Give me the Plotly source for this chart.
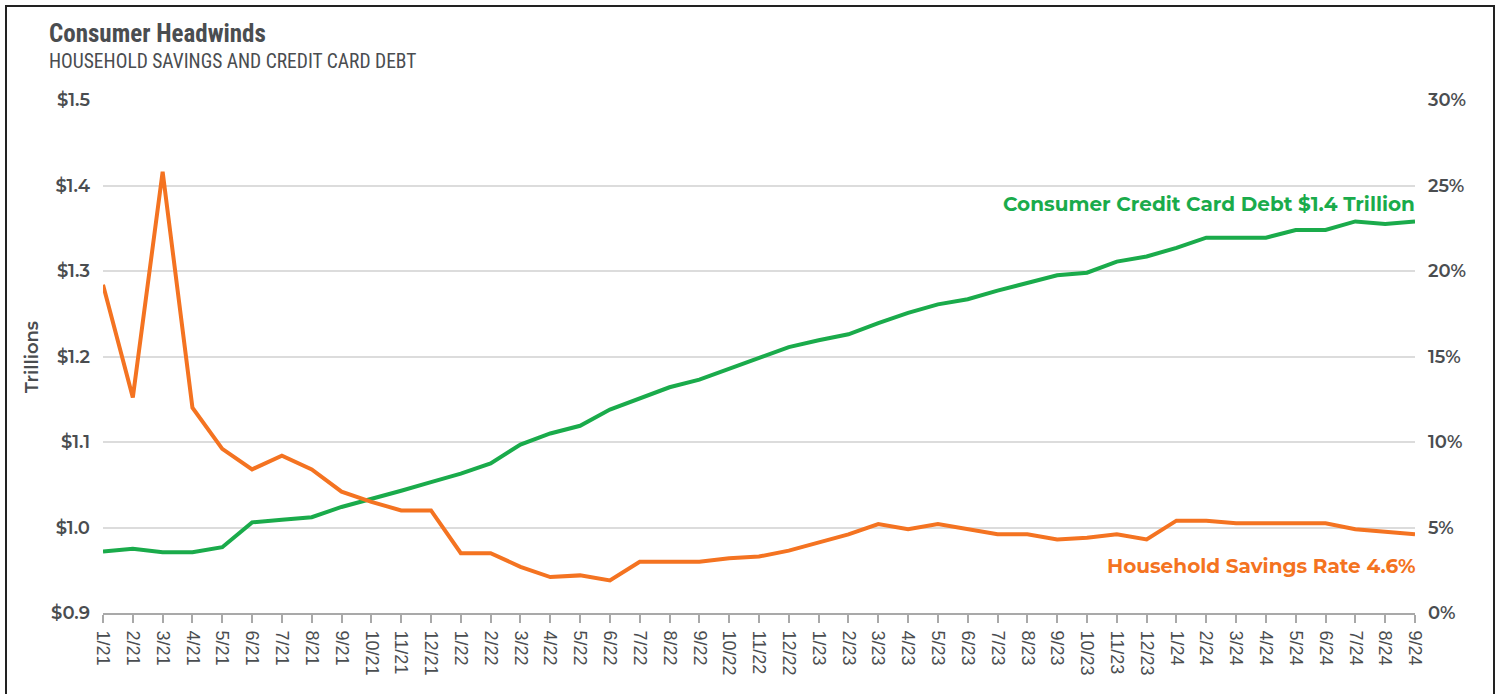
import plotly.graph_objects as go

months = ["1/21","2/21","3/21","4/21","5/21","6/21","7/21","8/21","9/21","10/21","11/21","12/21",
          "1/22","2/22","3/22","4/22","5/22","6/22","7/22","8/22","9/22","10/22","11/22","12/22",
          "1/23","2/23","3/23","4/23","5/23","6/23","7/23","8/23","9/23","10/23","11/23","12/23",
          "1/24","2/24","3/24","4/24","5/24","6/24","7/24","8/24","9/24"]

credit_debt = [0.972, 0.975, 0.971, 0.971, 0.977, 1.006, 1.009, 1.012, 1.024, 1.033, 1.043, 1.053,
               1.063, 1.075, 1.097, 1.110, 1.119, 1.138, 1.151, 1.164, 1.173, 1.186, 1.199, 1.211,
               1.219, 1.226, 1.239, 1.251, 1.261, 1.267, 1.277, 1.286, 1.295, 1.298, 1.311, 1.317,
               1.327, 1.339, 1.339, 1.339, 1.348, 1.348, 1.358, 1.355, 1.358]

savings_rate = [19.2, 12.6, 25.8, 12.0, 9.6, 8.4, 9.2, 8.4, 7.1, 6.5, 6.0, 6.0,
                3.5, 3.5, 2.7, 2.1, 2.2, 1.9, 3.0, 3.0, 3.0, 3.2, 3.3, 3.65,
                4.1, 4.6, 5.2, 4.9, 5.2, 4.9, 4.6, 4.6, 4.3, 4.4, 4.6, 4.3,
                5.4, 5.4, 5.25, 5.25, 5.25, 5.25, 4.9, 4.75, 4.6]

left_ticks = [0.9, 1.0, 1.1, 1.2, 1.3, 1.4, 1.5]
left_labels = ["$0.9", "$1.0", "$1.1", "$1.2", "$1.3", "$1.4", "$1.5"]
right_ticks = [0, 5, 10, 15, 20, 25, 30]
right_labels = ["0%", "5%", "10%", "15%", "20%", "25%", "30%"]

GREEN = "#1aab4b"
ORANGE = "#f47321"
TEXT = "#4a4d50"
GRID = "#dcdcdc"
AXIS = "#a9a9a9"

W, H = 1501, 694
L, R, T, B = 103, 86, 100, 81
pw, ph = W - L - R, H - T - B

def px(x):
    return (x - L) / pw

def py(y):
    return (H - B - y) / ph

fig = go.Figure()
fig.add_trace(go.Scatter(x=months, y=credit_debt, mode="lines", yaxis="y",
                         line=dict(color=GREEN, width=4), showlegend=False))
fig.add_trace(go.Scatter(x=months, y=savings_rate, mode="lines", yaxis="y2",
                         line=dict(color=ORANGE, width=4), showlegend=False))

tick_font = dict(family="Montserrat, 'Open Sans', sans-serif", size=18, color=TEXT, weight=600)

fig.update_layout(
    width=W, height=H,
    margin=dict(l=L, r=R, t=T, b=B, pad=0),
    paper_bgcolor="white", plot_bgcolor="white",
    xaxis=dict(type="category", range=[0, len(months) - 1],
               tickangle=90, ticks="outside", ticklen=8, tickwidth=2, tickcolor=AXIS,
               showline=True, linecolor=AXIS, linewidth=2, showgrid=False,
               ticklabelstandoff=4,
               tickfont=dict(family="'Liberation Sans', Arial, sans-serif", size=18, color=TEXT),
               zeroline=False),
    yaxis=dict(range=[0.9, 1.5], tickmode="array", tickvals=left_ticks, ticktext=left_labels,
               showgrid=True, gridcolor=GRID, gridwidth=1.5, zeroline=False,
               showline=False, ticks="", ticklabelstandoff=12,
               tickfont=tick_font),
    yaxis2=dict(range=[0, 30], tickmode="array", tickvals=right_ticks, ticktext=right_labels,
                overlaying="y", side="right", showgrid=False, zeroline=False, showline=False,
                ticks="", ticklabelstandoff=12, tickfont=tick_font),
)

annotations = [
    dict(text="<b>Consumer Headwinds</b>", x=px(47), y=py(33), xref="paper", yref="paper",
         xanchor="left", yanchor="middle", showarrow=False,
         font=dict(family="'Liberation Sans Narrow', 'Roboto Condensed', sans-serif", size=25, color=TEXT)),
    dict(text="HOUSEHOLD SAVINGS AND CREDIT CARD DEBT", x=px(47), y=py(61), xref="paper", yref="paper",
         xanchor="left", yanchor="middle", showarrow=False,
         font=dict(family="'Liberation Sans Narrow', 'Roboto Condensed', sans-serif", size=19.5, color=TEXT)),
    dict(text="Trillions", x=px(32), y=py(357), xref="paper", yref="paper", textangle=-90,
         xanchor="center", yanchor="middle", showarrow=False,
         font=dict(family="Montserrat, 'Open Sans', sans-serif", size=18, color=TEXT, weight=600)),
    dict(text="Consumer Credit Card Debt $1.4 Trillion", x=px(1417), y=py(204), xref="paper", yref="paper",
         xanchor="right", yanchor="middle", showarrow=False,
         font=dict(family="Montserrat, 'Open Sans', sans-serif", size=20, color=GREEN, weight=700)),
    dict(text="Household Savings Rate 4.6%", x=px(1417), y=py(566), xref="paper", yref="paper",
         xanchor="right", yanchor="middle", showarrow=False,
         font=dict(family="Montserrat, 'Open Sans', sans-serif", size=20, color=ORANGE, weight=700)),
]
fig.update_layout(annotations=annotations)

fig.add_shape(type="rect", xref="paper", yref="paper",
              x0=px(6), x1=px(1494), y0=py(6), y1=py(760),
              line=dict(color="#222222", width=2), fillcolor="rgba(0,0,0,0)", layer="above")

fig.write_html("out.html", config={"displayModeBar": False})

with open("out.html", "r", encoding="utf-8") as f:
    html = f.read()
html = html.replace("<body>", "<body style=\"margin:0;padding:0;overflow:hidden\">", 1)
html = html.replace("<head>", "<head><style>html,body{margin:0;padding:0;}</style>", 1)
with open("out.html", "w", encoding="utf-8") as f:
    f.write(html)
